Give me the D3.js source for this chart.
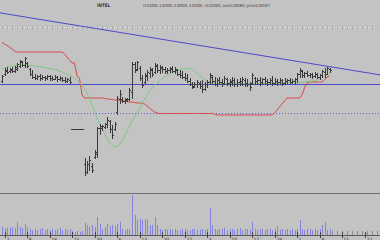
<!DOCTYPE html>
<html><head><meta charset="utf-8">
<script src="https://cdn.jsdelivr.net/npm/d3@7"></script>
<style>html,body{margin:0;padding:0;background:#c3c3c3;overflow:hidden}svg{display:block}</style>
</head><body>
<script>
const title = "INTEL";
const quote = "(4.01000, 4.02000, 4.00000, 4.01000, +0.01000), avm(4.00580), price(4.00167)";
const high = [
4.045,4.08,4.085,4.08,4.085,4.09,4.105,4.12,4.115,4.135,
4.11,4.08,4.07,4.05,4.045,4.05,4.045,4.04,4.045,4.045,
4.04,4.045,4.04,4.04,4.035,4.035,4.03,4.035,3.775,3.775,
3.775,3.775,3.775,3.63,3.615,3.64,3.605,3.67,3.785,3.80,
3.795,3.805,3.835,3.82,3.795,3.81,3.94,3.97,3.935,3.93,
3.93,3.98,4.11,4.11,4.115,4.09,4.045,4.055,4.07,4.085,
4.08,4.105,4.10,4.095,4.09,4.085,4.08,4.085,4.09,4.085,
4.075,4.07,4.065,4.055,4.05,4.03,4.01,4.01,4.02,4.015,
4.02,4.01,4.02,4.055,4.045,4.035,4.03,4.035,4.025,4.04,
4.03,4.025,4.035,4.03,4.025,4.03,4.035,4.03,4.025,4.01,
4.055,4.035,4.03,4.035,4.03,4.035,4.025,4.03,4.04,4.03,
4.025,4.03,4.025,4.03,4.025,4.03,4.025,4.03,4.055,4.08,
4.07,4.06,4.065,4.055,4.055,4.06,4.055,4.05,4.07,4.08,
4.085,4.08];
const low = [
4.01,4.045,4.055,4.06,4.06,4.06,4.07,4.085,4.09,4.085,
4.085,4.045,4.03,4.025,4.025,4.02,4.025,4.02,4.025,4.02,
4.02,4.025,4.015,4.02,4.015,4.01,4.01,4.005,3.775,3.775,
3.775,3.775,3.775,3.545,3.555,3.57,3.56,3.63,3.635,3.75,
3.77,3.78,3.785,3.76,3.73,3.77,3.85,3.905,3.91,3.905,
3.915,3.92,3.93,4.06,4.07,4.02,3.985,4.005,4.02,4.035,
4.04,4.055,4.06,4.055,4.06,4.055,4.055,4.06,4.06,4.055,
4.045,4.035,4.03,4.02,4.01,3.995,3.98,3.985,3.985,3.98,
3.96,3.97,3.985,4.00,4.005,3.995,3.99,4.00,3.99,4.00,
3.995,3.99,3.995,3.99,3.99,3.995,3.995,3.99,3.99,3.97,
4.00,4.00,4.00,3.995,4.00,4.005,3.995,4.00,3.995,4.00,
3.995,4.00,3.995,4.00,4.005,4.005,4.005,4.00,4.01,4.035,
4.035,4.035,4.04,4.035,4.03,4.035,4.03,4.025,4.035,4.035,
4.05,4.06];
const open = [
4.015,4.05,4.065,4.065,4.07,4.065,4.075,4.09,4.11,4.095,
4.105,4.075,4.05,4.035,4.03,4.04,4.03,4.035,4.03,4.04,
4.03,4.025,4.035,4.025,4.03,4.02,4.015,4.02,3.775,3.775,
3.775,3.775,3.775,3.60,3.56,3.60,3.59,3.635,3.65,3.78,
3.78,3.785,3.80,3.815,3.775,3.775,3.86,3.925,3.925,3.915,
3.92,3.925,3.96,4.10,4.075,4.08,4.03,4.01,4.04,4.055,
4.07,4.06,4.09,4.07,4.08,4.075,4.065,4.07,4.075,4.065,
4.07,4.05,4.045,4.035,4.03,4.015,4.00,3.99,4.00,4.005,
3.99,3.975,4.00,4.01,4.035,4.015,4.00,4.02,4.01,4.005,
4.025,4.005,4.01,4.02,4.00,4.01,4.015,4.02,4.005,4.00,
4.005,4.03,4.015,4.02,4.01,4.025,4.015,4.01,4.02,4.005,
4.015,4.01,4.02,4.005,4.015,4.02,4.01,4.015,4.025,4.05,
4.065,4.045,4.055,4.045,4.05,4.04,4.05,4.035,4.045,4.06,
4.05,4.075];
const close = [
4.04,4.07,4.06,4.075,4.065,4.085,4.10,4.115,4.095,4.13,
4.09,4.05,4.035,4.03,4.04,4.03,4.035,4.03,4.04,4.03,
4.025,4.035,4.025,4.03,4.02,4.015,4.025,4.01,3.775,3.775,
3.775,3.775,3.775,3.56,3.60,3.62,3.57,3.66,3.78,3.79,
3.79,3.80,3.82,3.775,3.745,3.80,3.93,3.95,3.915,3.925,
3.925,3.97,4.10,4.07,4.11,4.03,3.995,4.045,4.06,4.075,
4.05,4.095,4.07,4.085,4.075,4.065,4.07,4.08,4.065,4.075,
4.05,4.045,4.035,4.03,4.015,4.00,3.985,4.00,4.01,3.99,
3.975,4.00,4.01,4.045,4.015,4.00,4.02,4.01,4.005,4.03,
4.005,4.015,4.02,4.00,4.01,4.015,4.025,4.005,4.00,3.985,
4.045,4.015,4.02,4.01,4.025,4.015,4.01,4.02,4.005,4.015,
4.01,4.02,4.005,4.015,4.02,4.01,4.015,4.025,4.05,4.07,
4.045,4.055,4.045,4.05,4.04,4.05,4.035,4.045,4.065,4.05,
4.08,4.07];
const movingAvg = [
4.075,4.08,4.085,4.0875,4.09,4.0925,4.095,4.095,4.095,4.095,
4.095,4.095,4.0925,4.09,4.09,4.0875,4.085,4.0825,4.08,4.0775,
4.075,4.0725,4.07,4.065,4.06,4.055,4.05,4.045,4.0375,4.03,
4.02,4.0075,3.99,3.975,3.955,3.93,3.895,3.865,3.83,3.80,
3.775,3.75,3.73,3.71,3.695,3.685,3.6875,3.6975,3.715,3.74,
3.765,3.79,3.815,3.835,3.855,3.875,3.90,3.925,3.945,3.965,
3.98,3.9925,4.005,4.015,4.025,4.035,4.0425,4.05,4.0575,4.0625,
4.0675,4.0725,4.075,4.0775,4.0775,4.0775,4.0725,4.065,4.055,4.0425,
4.0325,4.0225,4.015,4.01,4.0075,4.005,4.004,4.003,4.003,4.002,
4.002,4.002,4.003,4.003,4.004,4.004,4.003,4.003,4.002,4.002,
4.003,4.003,4.004,4.004,4.004,4.003,4.003,4.003,4.004,4.004,
4.004,4.005,4.005,4.005,4.005,4.005,4.005,4.005,4.005,4.0075,
4.0075,4.01,4.0125,4.015,4.015,4.0175,4.02,4.025,4.03,4.0375,
4.0475,4.055];
const stopLine = [
4.2075,4.20,4.1925,4.185,4.175,4.165,4.16,4.16,4.16,4.16,
4.16,4.16,4.16,4.16,4.16,4.16,4.16,4.16,4.16,4.16,
4.16,4.16,4.16,4.16,4.16,4.15,4.135,4.12,4.105,4.105,
4.04,4.03,3.945,3.93,3.93,3.93,3.93,3.93,3.93,3.93,
3.93,3.9275,3.925,3.925,3.9225,3.92,3.92,3.9175,3.915,3.915,
3.9125,3.91,3.91,3.9075,3.905,3.905,3.905,3.90,3.89,3.88,
3.87,3.86,3.855,3.8525,3.8525,3.8525,3.8525,3.8525,3.8525,3.8525,
3.8525,3.8525,3.8525,3.8525,3.8525,3.8525,3.8525,3.8525,3.8525,3.8525,
3.8525,3.8525,3.8525,3.8525,3.8525,3.85,3.845,3.845,3.845,3.845,
3.845,3.845,3.845,3.845,3.845,3.845,3.845,3.845,3.845,3.845,
3.845,3.845,3.845,3.845,3.845,3.845,3.845,3.845,3.845,3.855,
3.87,3.885,3.90,3.915,3.93,3.93,3.93,3.93,3.93,3.93,
3.945,3.98,4.005,4.01,4.01,4.01,4.01,4.01,4.01,4.02,
4.035,4.04];
const volume = [
80,70,70,70,83,70,130,80,70,110,
80,60,55,65,50,60,70,55,60,50,
65,55,60,70,50,60,55,65,40,30,
45,35,40,120,100,80,100,80,180,110,
65,80,110,95,100,95,110,135,65,50,
65,60,400,200,150,165,150,165,150,100,
100,180,100,65,55,60,50,65,55,60,
50,55,65,60,50,55,60,65,50,55,
60,50,65,270,100,60,55,65,60,70,
55,60,65,50,60,70,55,60,65,55,
130,60,55,65,60,50,65,60,55,60,
90,55,60,50,65,55,60,50,60,150,
60,55,65,60,50,60,55,65,100,130,
50,60];
const trendLine = [[-1, 4.356], [152, 4.044]];
const supportLevel = 4.00;
const lowerLevel = 3.855;
const tickSlots = [1,10,19,28,37,46,55,64,73,82,91,100,109,118,127,136,145];
const tickLabels = ["2","9","16","23","30","6","13","20","27","3","10","17","24","1","8","15","22"];

const W = 380, H = 240;
const svg = d3.select("body").append("svg").attr("width", W).attr("height", H);
svg.append("rect").attr("width", W).attr("height", H).attr("fill", "#c3c3c3");

const x = d3.scaleLinear().domain([0, 152]).range([2, 382]);
const y = d3.scaleLinear().domain([3.5, 4.3]).range([184, 24]);
const yv = d3.scaleLinear().domain([0, 400]).range([235, 195]);
const col = i => Math.round(x(i));
const px = i => col(i) + 0.5;

// header
svg.append("text").attr("x", 97).attr("y", 6.5).attr("font-family", "DejaVu Sans")
  .attr("font-size", 4.8).attr("font-weight", "bold").attr("fill", "#333")
  .attr("textLength", 13).attr("lengthAdjust", "spacingAndGlyphs").text(title);
svg.append("text").attr("x", 143).attr("y", 6.5).attr("font-family", "DejaVu Sans")
  .attr("font-size", 4.2).attr("fill", "#333")
  .attr("textLength", 127).attr("lengthAdjust", "spacingAndGlyphs").text(quote);

// top dotted border with ticks
svg.append("line").attr("x1", 0).attr("x2", W).attr("y1", 27.5).attr("y2", 27.5)
  .attr("stroke", "#e4e4e4").attr("stroke-dasharray", "1,1");
svg.append("g").selectAll("line").data(d3.range(0, 152, 2)).join("line")
  .attr("x1", d => px(d)).attr("x2", d => px(d)).attr("y1", 26).attr("y2", 29)
  .attr("stroke", "#a9a9a9");

// horizontal levels
const ly = v => Math.round(y(v)) + 0.5;
svg.append("line").attr("x1", 0).attr("x2", W).attr("y1", ly(supportLevel)).attr("y2", ly(supportLevel))
  .attr("stroke", "#4a4ac8");
svg.append("line").attr("x1", 0).attr("x2", W).attr("y1", ly(lowerLevel)).attr("y2", ly(lowerLevel))
  .attr("stroke", "#6a5ad0").attr("stroke-dasharray", "1,2");

// trend line
svg.append("line").attr("x1", x(trendLine[0][0])).attr("y1", y(trendLine[0][1]))
  .attr("x2", x(trendLine[1][0])).attr("y2", y(trendLine[1][1]))
  .attr("stroke", "#4a4ac8");

// stop line (red) and moving average (green)
const line = arr => d3.line().x((d, i) => x(i)).y(d => y(d))(arr);
svg.append("path").attr("d", line(stopLine)).attr("fill", "none").attr("stroke", "#d84848");
svg.append("path").attr("d", line(movingAvg)).attr("fill", "none").attr("stroke", "#80c880");

// OHLC bars
const bars = high.map((h, i) => ({i, h, l: low[i], o: open[i], c: close[i]}));
const g = svg.append("g").attr("stroke", "#3a3a3a").attr("shape-rendering", "crispEdges");
g.selectAll(".hl").data(bars).join("line")
  .attr("x1", d => px(d.i)).attr("x2", d => px(d.i))
  .attr("y1", d => Math.round(y(d.h))).attr("y2", d => Math.round(y(d.l)) + 1);
g.selectAll(".op").data(bars).join("line")
  .attr("x1", d => col(d.i) - 1).attr("x2", d => col(d.i))
  .attr("y1", d => Math.round(y(d.o)) + 0.5).attr("y2", d => Math.round(y(d.o)) + 0.5);
g.selectAll(".cl").data(bars).join("line")
  .attr("x1", d => col(d.i) + 1).attr("x2", d => col(d.i) + 2)
  .attr("y1", d => Math.round(y(d.c)) + 0.5).attr("y2", d => Math.round(y(d.c)) + 0.5);

// separator
svg.append("line").attr("x1", 0).attr("x2", W).attr("y1", 193.5).attr("y2", 193.5)
  .attr("stroke", "#6e6e6e");

// axis minor ticks
svg.append("g").selectAll("line").data(d3.range(0, 152, 2)).join("line")
  .attr("x1", d => px(d)).attr("x2", d => px(d)).attr("y1", 231).attr("y2", 235)
  .attr("stroke", "#8a8a8a").attr("shape-rendering", "crispEdges");

// volume bars
svg.append("g").selectAll("line").data(volume).join("line")
  .attr("x1", (d, i) => px(i)).attr("x2", (d, i) => px(i))
  .attr("y1", d => Math.round(yv(d))).attr("y2", yv(0))
  .attr("stroke", "#8484e0").attr("shape-rendering", "crispEdges");

// axis baseline
svg.append("line").attr("x1", 0).attr("x2", W).attr("y1", 235.5).attr("y2", 235.5)
  .attr("stroke", "#5a5a5a");

// major ticks & labels
const ax = svg.append("g");
ax.selectAll("line").data(tickSlots).join("line")
  .attr("x1", d => px(d)).attr("x2", d => px(d)).attr("y1", 232).attr("y2", 238)
  .attr("stroke", "#444").attr("shape-rendering", "crispEdges");
ax.selectAll("text").data(tickSlots).join("text")
  .attr("x", d => px(d) + 1).attr("y", 240.5)
  .attr("font-family", "DejaVu Sans").attr("font-size", 4.5).attr("fill", "#333")
  .text((d, i) => tickLabels[i]);
</script>
</body></html>
